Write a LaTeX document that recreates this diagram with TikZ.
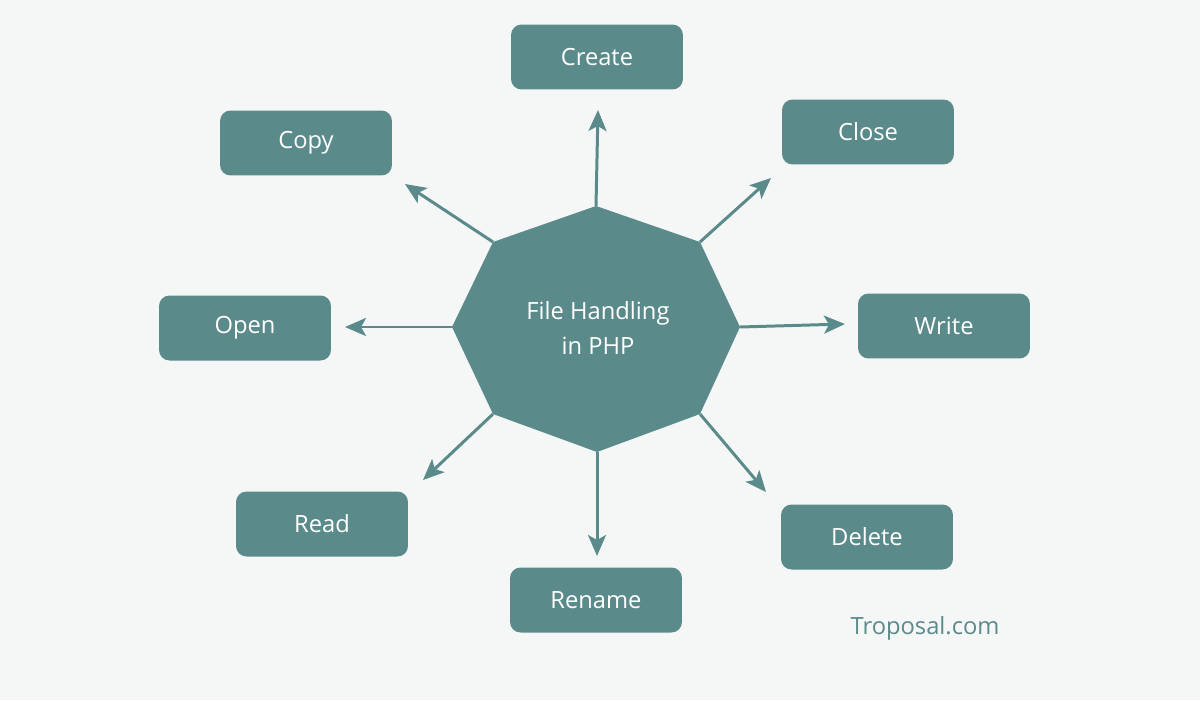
\documentclass[tikz,border=0pt]{standalone}
\usepackage{fontspec}
\setmainfont{Open Sans}
\usetikzlibrary{arrows.meta}
\definecolor{bg}{HTML}{F5F7F7}
\definecolor{teal}{HTML}{5B8A8B}
\begin{document}
\begin{tikzpicture}[x=0.02cm,y=-0.02cm,
  box/.style={fill=teal,rounded corners=6pt,minimum width=3.44cm,minimum height=1.3cm,text=white,font=\fontsize{13.5}{16}\selectfont},
  arr/.style={draw=teal,line width=1.7pt,-{Stealth[length=0.42cm,width=0.36cm,inset=0.1cm]}}]
\fill[bg] (0,0) rectangle (1200,700);
\useasboundingbox (0,0) rectangle (1200,700);
\coordinate (vT) at (596,206); \coordinate (vTR) at (700,242);
\coordinate (vR) at (740,327); \coordinate (vBR) at (700,414);
\coordinate (vB) at (597,452); \coordinate (vBL) at (493,414);
\coordinate (vL) at (452,327); \coordinate (vTL) at (493,242);
\fill[teal] (vT)--(vTR)--(vR)--(vBR)--(vB)--(vBL)--(vL)--(vTL)--cycle;
\node[text=white,align=center,font=\fontsize{13.5}{20}\selectfont] (hub) at (598,328) {File Handling\\in PHP};
\node[box] (create) at (597,57) {Create};
\node[box] (close) at (868,132) {Close};
\node[box] (copy) at (306,143) {Copy};
\node[box] (open) at (245,328) {Open};
\node[box] (write) at (944,326) {Write};
\node[box] (read) at (322,524) {Read};
\node[box] (delete) at (867,537) {Delete};
\node[box] (rename) at (596,600) {Rename};
\coordinate (eCreate) at (598,110); \coordinate (eClose) at (771,178);
\coordinate (eCopy) at (405,184); \coordinate (eOpen) at (345,327);
\coordinate (eWrite) at (845,324); \coordinate (eRead) at (423,480);
\coordinate (eDelete) at (766,492); \coordinate (eRename) at (597,556);
\draw[arr] (vT)--(eCreate);
\draw[arr] (vTR)--(eClose);
\draw[arr] (vTL)--(eCopy);
\draw[arr] (vL)--(eOpen);
\draw[arr] (vR)--(eWrite);
\draw[arr] (vBL)--(eRead);
\draw[arr] (vBR)--(eDelete);
\draw[arr] (vB)--(eRename);
\node[text=teal,font=\fontsize{13.5}{16}\selectfont] (brand) at (925,628) {Troposal.com};
\end{tikzpicture}
\end{document}
